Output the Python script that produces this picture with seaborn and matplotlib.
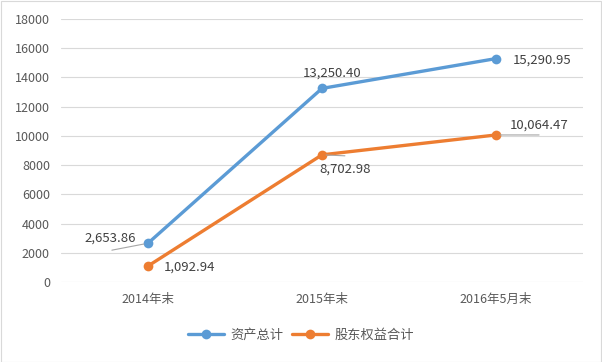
import matplotlib
matplotlib.use("Agg")
import matplotlib.pyplot as plt
import seaborn as sns
import pandas as pd
from matplotlib.lines import Line2D
from matplotlib.patches import Rectangle

periods = ["2014年末", "2015年末", "2016年5月末"]
series_names = ["资产总计", "股东权益合计"]
total_assets = [2653.86, 13250.40, 15290.95]
equity = [1092.94, 8702.98, 10064.47]
yticks = [0, 2000, 4000, 6000, 8000, 10000, 12000, 14000, 16000, 18000]
colors = ["#5B9BD5", "#ED7D31"]

sns.set_theme(style="white")
plt.rcParams["font.family"] = ["Noto Sans CJK SC", "DejaVu Sans"]
text_color = "#595959"

df = pd.DataFrame({
    "period": periods * 2,
    "value": total_assets + equity,
    "series": [series_names[0]] * 3 + [series_names[1]] * 3,
})

fig = plt.figure(figsize=(6.02, 3.62), dpi=100)
ax = fig.add_axes([61 / 602, 1 - 282 / 362, (583 - 61) / 602, (282 - 19) / 362])

sns.lineplot(data=df, x="period", y="value", hue="series", palette=colors,
             marker="o", markersize=7, markeredgewidth=0, linewidth=2.4,
             sort=False, legend=False, ax=ax)

ax.set_xlim(-0.5, 2.5)
ax.set_ylim(0, 18000)
ax.set_yticks(yticks)
ax.set_yticklabels([str(v) for v in yticks])
ax.set_xlabel("")
ax.set_ylabel("")
ax.grid(axis="y", color="#D9D9D9", linewidth=0.8)
ax.set_axisbelow(True)
for s in ax.spines.values():
    s.set_visible(False)
ax.tick_params(axis="y", length=0, pad=8, labelsize=9, labelcolor=text_color)
ax.tick_params(axis="x", length=0, pad=8, labelsize=9, labelcolor=text_color)

# data labels (offsets in points)
lab_font = dict(fontsize=9.5, color="#404040", ha="center", va="center")
offsets_a = [(-27, 4), (7, 11), (33, -1)]
offsets_e = [(30, -1), (17, -10), (31, 7)]
# leader line end offsets (points), None = no leader
lead_a = [(-26, -5), None, None]
lead_e = [None, (16.5, -0.7), (31, 0)]
leader = dict(arrowstyle="-", color="#A6A6A6", lw=0.8, shrinkA=0, shrinkB=3)
for vals, offs, leads in ((total_assets, offsets_a, lead_a), (equity, offsets_e, lead_e)):
    for i in range(3):
        if leads[i] is not None:
            ax.annotate("", xy=(i, vals[i]), xytext=leads[i],
                        textcoords="offset points", arrowprops=leader)
        ax.annotate(f"{vals[i]:,.2f}", xy=(i, vals[i]), xytext=offs[i],
                    textcoords="offset points", **lab_font)

handles = [Line2D([], [], color=c, lw=2.4, marker="o", markersize=7,
                  markeredgewidth=0) for c in colors]
leg = fig.legend(handles, series_names, loc="center", bbox_to_anchor=(0.5, 1 - 335 / 362),
                 ncol=2, frameon=False, fontsize=9.5, handlelength=2.7,
                 handletextpad=0.5, columnspacing=0.7)
for t in leg.get_texts():
    t.set_color(text_color)

fig.patches.append(Rectangle((0.001, 0.001), 0.997, 0.996, transform=fig.transFigure,
                             fill=False, edgecolor="#D9D9D9", linewidth=0.8))

fig.savefig("out.png", dpi=100)
